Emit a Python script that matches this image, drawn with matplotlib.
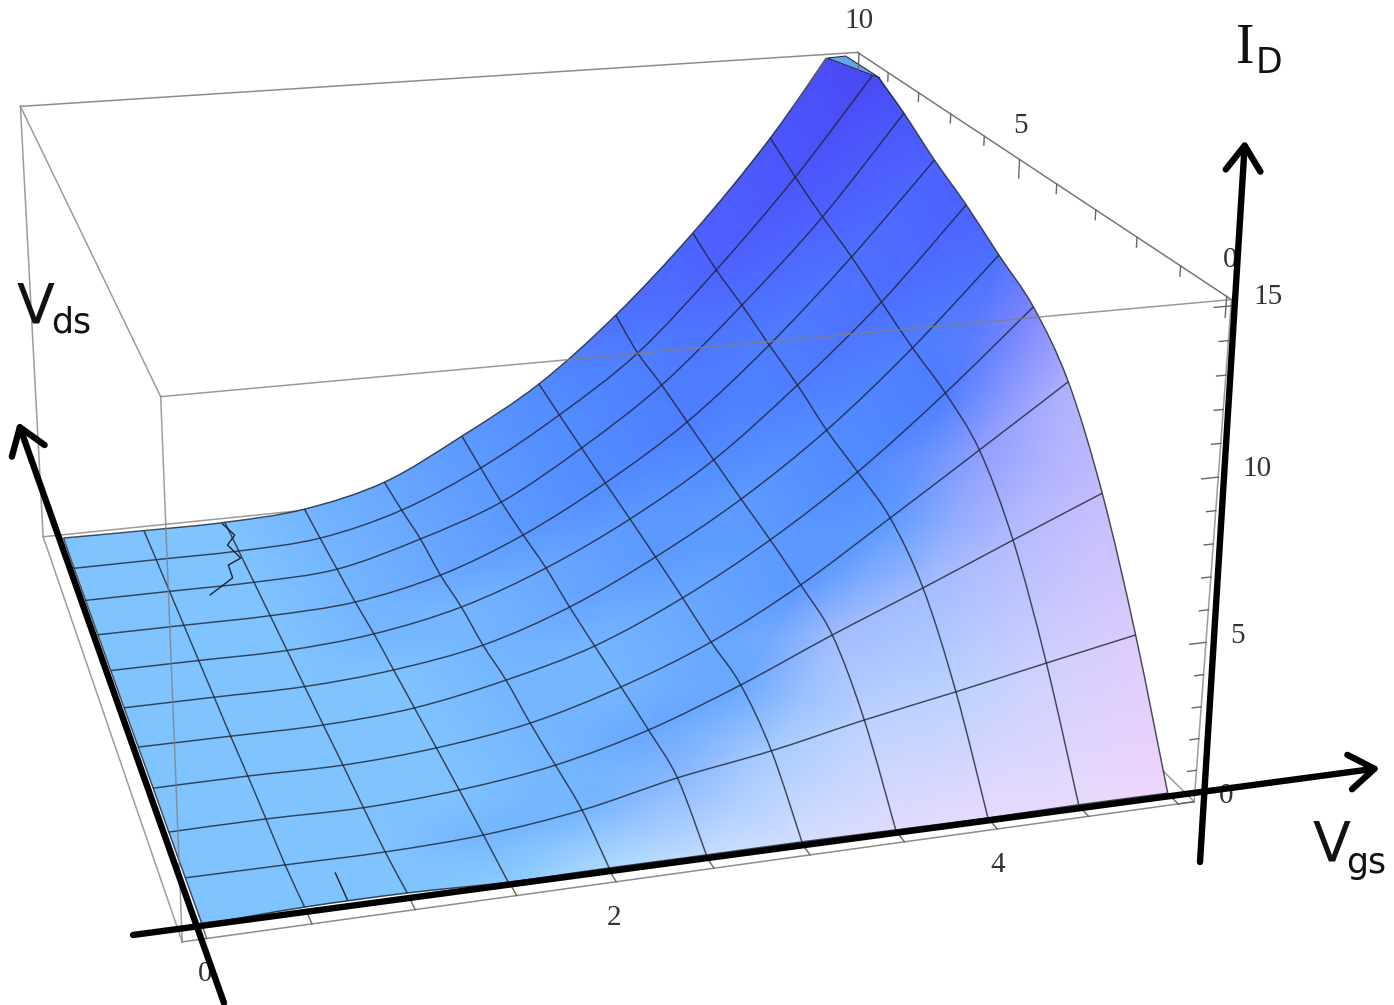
import numpy as np
import matplotlib
matplotlib.use("Agg")
import matplotlib.pyplot as plt
from matplotlib.colors import to_rgb
from matplotlib.patches import PathPatch, Polygon
from matplotlib.path import Path

# grid the surface was sampled on
vgs = [0.0, 0.49, 0.99, 1.49, 2.0, 2.5, 3.0, 3.5, 4.0, 4.5, 5.0]
vds = [0.14, 1.09, 2.07, 3.05, 4.04, 5.03, 6.01, 7.0, 8.0, 8.98, 9.92]

# I_D, one row per vds, one column per vgs
id_rows = [
    [0.04, 0.15, 0.15, 0.06, 0.07, 0.06, 0.06, 0.03, 0.01, 0.03, 0.01],
    [0.03, 0.02, 0.01, 0.13, 0.50, 1.12, 1.59, 2.19, 2.72, 3.28, 3.83],
    [0.02, 0.04, 0.00, 0.17, 0.57, 1.32, 2.40, 3.65, 4.82, 6.03, 7.22],
    [0.03, 0.04, 0.01, 0.19, 0.62, 1.44, 2.56, 4.09, 5.95, 7.85, 9.77],
    [0.01, 0.00, 0.00, 0.20, 0.76, 1.55, 2.82, 4.43, 6.38, 8.70, 11.25],
    [0.00, 0.00, 0.00, 0.21, 0.70, 1.66, 3.04, 4.70, 6.74, 9.23, 12.07],
    [0.00, 0.00, 0.00, 0.23, 0.82, 1.85, 3.24, 4.99, 7.29, 9.87, 12.92],
    [0.00, 0.00, 0.00, 0.15, 0.77, 1.88, 3.42, 5.29, 7.72, 10.54, 13.65],
    [0.00, 0.00, 0.00, 0.15, 0.92, 1.95, 3.61, 5.60, 8.20, 11.09, 14.51],
    [0.00, 0.00, 0.00, 0.16, 0.88, 2.14, 3.81, 5.81, 8.59, 11.71, 15.25],
    [0.03, 0.00, 0.00, 0.19, 0.90, 2.34, 4.02, 6.33, 9.13, 12.39, 16.28],
]

# shade of every node, same layout as id_rows
palette = {
    "a": "#7fc3ff", "b": "#74b6ff", "c": "#68a8ff", "d": "#5c9aff", "e": "#528cff",
    "f": "#4e7eff", "g": "#4d70ff", "h": "#4d62ff", "i": "#4c56fc", "j": "#4a4af5",
    "k": "#8ccbff", "l": "#b0daff", "m": "#c4ddff", "n": "#d4deff", "o": "#e0dcfe",
    "p": "#e8dafd", "q": "#f0d5fc", "r": "#8ab8ff", "s": "#a8ccff", "t": "#bcd2ff",
    "u": "#cfd0fe", "v": "#dccbfd", "w": "#a2bcff", "x": "#b5bcfe", "y": "#c5bdfe",
    "z": "#8f9eff", "A": "#b0b0fe", "B": "#7f85ff",
}
shade_rows = [
    "aaaklmnoppq",
    "aaabbrsttuv",
    "aaaabccwwxy",
    "aaaabbcddzA",
    "aaaabbcdefB",
    "aaaabcddefg",
    "aaabbcdefgh",
    "aaabcdeffgh",
    "aaabcdefghi",
    "aaabcdefhij",
    "aaabcdeghij",
]

# stray bits of mesh line near vgs = 1
squiggle_vgs = [0.95, 0.99, 0.92, 0.96, 0.87, 0.86, 0.69]
squiggle_vds = [9.62, 9.23, 8.95, 8.51, 8.34, 7.95, 7.53]
stub_vgs = [0.71, 0.71]
stub_vds = [0.81, 0.26]

# surface is cut off at I_D = 15
cap_vgs = [4.90, 5.03, 5.04]
cap_vds = [10.11, 10.15, 9.01]
cap_id = 15.0

# box limits of the plot
vgs_lim = (-0.115, 5.09)
vds_lim = (-0.1, 10.05)
id_lim = (0.0, 15.18)

vgs_ticks = [0, 0.5, 1, 1.5, 2, 2.5, 3, 3.5, 4, 4.5, 5]
vds_ticks = [0, 1, 2, 3, 4, 5, 6, 7, 8, 9, 10]
id_ticks = list(range(16))

# camera: where known box points land in the picture
v0, v1 = vgs_lim
d0, d1 = vds_lim
z0, z1 = id_lim
camera_pts = [
    (v0, d0, z0, 183, 942), (v1, d0, z0, 1193, 805), (v0, d1, z0, 43, 535),
    (v0, d0, z1, 160, 398), (v1, d0, z1, 1231, 297), (v0, d1, z1, 20, 107),
    (v1, d1, z1, 857, 52), (2, d0, z0, 617, 882), (4, d0, z0, 998, 829),
    (v1, 5, z1, 1022, 163), (v1, d0, 5, 1205, 642), (v1, d0, 10, 1218, 473),
]
A = []
b = []
for x, y, z, u, w in camera_pts:
    A.append([x, y, z, 1, 0, 0, 0, 0, -u * x, -u * y, -u * z])
    b.append(u)
    A.append([0, 0, 0, 0, x, y, z, 1, -w * x, -w * y, -w * z])
    b.append(w)
cam = np.append(np.linalg.lstsq(np.array(A, float), np.array(b, float), rcond=None)[0], 1).reshape(3, 4)


def project(x, y, z):
    x, y, z = np.broadcast_arrays(np.asarray(x, float), np.asarray(y, float), np.asarray(z, float))
    h = cam[2, 0] * x + cam[2, 1] * y + cam[2, 2] * z + cam[2, 3]
    u = (cam[0, 0] * x + cam[0, 1] * y + cam[0, 2] * z + cam[0, 3]) / h
    w = (cam[1, 0] * x + cam[1, 1] * y + cam[1, 2] * z + cam[1, 3]) / h
    return u, w


def curve_verts(u, w):
    # bezier controls through the nodes, returns everything after the first node
    p = np.column_stack([u, w])
    out = []
    for i in range(len(p) - 1):
        before = p[max(i - 1, 0)]
        after = p[min(i + 2, len(p) - 1)]
        out.append(p[i] + (p[i + 1] - before) / 6)
        out.append(p[i + 1] - (after - p[i]) / 6)
        out.append(p[i + 1])
    return p[0], out


def curve_path(u, w):
    start, rest = curve_verts(u, w)
    return Path([start] + rest, [Path.MOVETO] + [Path.CURVE4] * len(rest))


fig = plt.figure(figsize=(13.94, 10.05), dpi=100)
ax = fig.add_axes([0, 0, 1, 1])
ax.set_xlim(0, 1394)
ax.set_ylim(1005, 0)
ax.axis("off")

box_color = "#9c9c9c"


def edge(p, q, **kw):
    u, w = project([p[0], q[0]], [p[1], q[1]], [p[2], q[2]])
    style = dict(color=box_color, lw=1.1, zorder=1)
    style.update(kw)
    ax.plot(u, w, **style)


# box edges behind the surface
edge((v0, d1, z0), (v1, d1, z0))
edge((v1, d0, z0), (v1, d1, z0))
edge((v0, d0, z0), (v0, d1, z0))
edge((v0, d1, z0), (v0, d1, z1))
edge((v0, d1, z1), (v1, d1, z1), color="#8c8c8c")
edge((v0, d0, z1), (v0, d1, z1))
edge((v1, d0, z1), (v1, d1, z1), color="#777777")
edge((v0, d0, z0), (v1, d0, z0), color="#8c8c8c")
edge((v1, d0, z0), (v1, d0, z1))

# surface
vg_grid, vd_grid = np.meshgrid(vgs, vds)
id_grid = np.array(id_rows)
sx, sy = project(vg_grid, vd_grid, id_grid)
rgb = np.array([[to_rgb(palette[c]) for c in row] for row in shade_rows])

cu, cw = project(cap_vgs, cap_vds, cap_id)
along = np.array([cu[2] - cu[0], cw[2] - cw[0]])
p1 = np.array([cu[0], cw[0]]) - along * 40
p2 = np.array([cu[2], cw[2]]) + along * 40
keep = Polygon([p1, p2, p2 + [-3000, 3000], p1 + [-3000, 3000]], transform=ax.transData)

# outline of the cut off surface, to trim the flat cells to the curved edges
right_u = np.append(sx[:9, -1], cu[2])
right_w = np.append(sy[:9, -1], cw[2])
back_u = np.append(cu[0], sx[-1, -2::-1])
back_w = np.append(cw[0], sy[-1, -2::-1])
s1, r1 = curve_verts(right_u, right_w)
s2, r2 = curve_verts(back_u, back_w)
verts = [s1] + r1 + [s2] + r2 + [np.array([sx[0, 0], sy[0, 0]]), s1]
codes = [Path.MOVETO] + [Path.CURVE4] * len(r1) + [Path.LINETO] + [Path.CURVE4] * len(r2) + [Path.LINETO, Path.LINETO]
outline = Path(verts, codes)

mesh = ax.pcolormesh(sx, sy, rgb, shading="gouraud", zorder=2)
mesh.set_clip_path(PathPatch(outline, transform=ax.transData))

# the vgs = 5 edge bulges past the cells, fill those slivers
start, rest = curve_verts(right_u, right_w)
pts = [start] + rest
for i in range(len(right_u) - 1):
    seg = pts[3 * i:3 * i + 4]
    c = (rgb[i, -1] + rgb[min(i + 1, 10), -1]) / 2
    sliver = Path(seg + [seg[0]], [Path.MOVETO] + [Path.CURVE4] * 3 + [Path.LINETO])
    ax.add_patch(PathPatch(sliver, facecolor=c, edgecolor="none", zorder=2))

for i in range(len(vds)):
    pt = PathPatch(curve_path(sx[i], sy[i]), facecolor="none", edgecolor="#1c2430", lw=1.05, alpha=0.8, zorder=3)
    ax.add_patch(pt)
    pt.set_clip_path(keep)
for j in range(len(vgs)):
    pt = PathPatch(curve_path(sx[:, j], sy[:, j]), facecolor="none", edgecolor="#1c2430", lw=1.05, alpha=0.8, zorder=3)
    ax.add_patch(pt)
    pt.set_clip_path(keep)

ax.fill(cu, cw, facecolor="#62a6f2", edgecolor="#27304a", lw=0.8, zorder=3)

u, w = project(squiggle_vgs, squiggle_vds, 0.3)
ax.plot(u, w, color="#1c2430", lw=1.0, zorder=3)
u, w = project(stub_vgs, stub_vds, 0.0)
ax.plot(u, w, color="#1c2430", lw=1.0, zorder=3)

# these two run in front of the surface
edge((v0, d0, z0), (v0, d0, z1), color="#808080", alpha=0.75, zorder=4)
edge((v0, d0, z1), (v1, d0, z1), color="#808080", alpha=0.8, zorder=4)

# ticks
for t in vgs_ticks:
    edge((t, d0, z0), (t, d0 + 0.25, z0), color="#666666", lw=1.0, zorder=4)
for t in vds_ticks:
    edge((v1, t, z1), (v1, t, z1 - (0.6 if t % 5 == 0 else 0.3)), color="#666666", lw=1.0, zorder=4)
for t in id_ticks:
    edge((v1, d0, t), (v1 - (0.09 if t % 5 == 0 else 0.05), d0, t), color="#666666", lw=1.0, zorder=4)

tick_style = dict(family="Liberation Serif", fontsize=21, color="#333333", ha="center", va="center", zorder=5)
for t, dx, dy in [(0, -2, 36), (2, -2, 36), (4, 0, 36)]:
    u, w = project(t, d0, z0)
    ax.text(u + dx, w + dy, str(t), **tick_style)
for t, dx, dy in [(0, 3, -36), (5, 1, -34), (10, 0, -32)]:
    u, w = project(v1, t, z1)
    ax.text(u + dx, w + dy, str(t), **tick_style)
for t, dx, dy in [(0, 32, -6), (5, 32, -6), (10, 39, -8), (15, 37, -9)]:
    u, w = project(v1, d0, t)
    ax.text(u + dx, w + dy, str(t), **tick_style)

# hand drawn axes on top of the plot
arrow = dict(arrowstyle="->,head_length=1.8,head_width=1.25", lw=4.6, color="black",
             shrinkA=0, shrinkB=0, mutation_scale=10)
for tail, tip in [((133, 935), (1380, 768)), ((1200, 862), (1245, 140)), ((224, 1003), (18, 422))]:
    ax.annotate("", xy=tip, xytext=tail, arrowprops=arrow, zorder=10)

big = dict(color="#111111", fontsize=40, va="baseline", ha="left", zorder=11)
small = dict(color="#111111", fontsize=25, va="baseline", ha="left", zorder=11)
ax.text(17, 322, "V", **big)
ax.text(51, 332, "ds", **small)
ax.text(1313, 860, "V", **big)
ax.text(1346, 873, "gs", **small)
ax.text(1236, 63, "I", family="Liberation Serif", **big)
ax.text(1256, 73, "D", **small)

fig.savefig("out.png", dpi=100)
